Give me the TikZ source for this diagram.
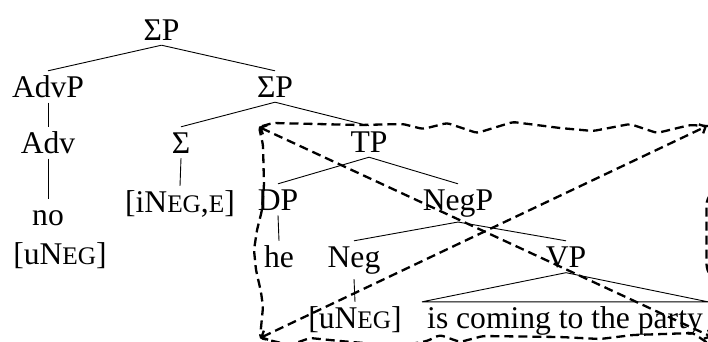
\documentclass[tikz,border=0pt]{standalone}
\usepackage{fontspec}
\setmainfont{Liberation Serif}
\usetikzlibrary{arrows.meta}
\newcommand\mysc[1]{{\fontsize{25.3}{25.3}\selectfont #1}}
\begin{document}
\begin{tikzpicture}[x=1pt,y=-1pt,
  lbl/.style={anchor=base, inner sep=5pt, text height=21pt, font=\fontsize{31.6}{38}\selectfont},
  branch/.style={line width=0.9pt},
  cloudline/.style={line width=2.3pt, dash pattern=on 9pt off 5pt},
  tipped/.style={{Straight Barb[length=5pt,width=10pt]}-{Straight Barb[length=5pt,width=10pt]}},
]
\useasboundingbox (0,0) rectangle (708,341);
\clip (0,0) rectangle (708,341);
% tree nodes
\node[lbl] (sp1) at (161.5,40) {ΣP};
\node[lbl] (advp) at (48,97) {AdvP};
\node[lbl] (sp2) at (275,97) {ΣP};
\node[lbl] (adv) at (48,153) {Adv};
\node[lbl] (sig) at (181,153) {Σ};
\node[lbl] (tp) at (369,152) {TP};
\node[lbl] (no) at (48,225) {no};
\node[lbl] (unegA) at (60,264) {[uN\mysc{EG}]};
\node[lbl] (ineg) at (180,212) {[iN\mysc{EG},\mysc{E}]};
\node[lbl] (dp) at (278,210) {DP};
\node[lbl] (negp) at (458,210) {NegP};
\node[lbl] (he) at (279,267) {he};
\node[lbl] (neg) at (354,267) {Neg};
\node[lbl] (vp) at (566,267) {VP};
\node[lbl] (unegB) at (355,328) {[uN\mysc{EG}]};
\node[lbl] (vpt) at (565,328) {is coming to the party};
% branches
\draw[branch] (sp1.south) -- (advp.north);
\draw[branch] (sp1.south) -- (sp2.north);
\draw[branch] (advp.south) -- (adv.north);
\draw[branch] (sp2.south) -- (sig.north);
\draw[branch] (sp2.south) -- (tp.north);
\draw[branch] (adv.south) -- (no.north);
\draw[branch] (sig.south) -- (ineg.north);
\draw[branch] (tp.south) -- (dp.north);
\draw[branch] (tp.south) -- (negp.north);
\draw[branch] (dp.south) -- (he.north);
\draw[branch] (negp.south) -- (neg.north);
\draw[branch] (negp.south) -- (vp.north);
\draw[branch] (neg.south) -- (unegB.north);
\draw[branch] (vp.south) -- (vpt.north west) -- (vpt.north east) -- cycle;
% dashed cloud
\coordinate (tl) at (259,127);
\coordinate (bl) at (260,338);
\coordinate (tr) at (707,126);
\coordinate (br) at (712,337);
\draw[cloudline, rounded corners=3pt] (tl) -- (273,123) -- (360,125) -- (403,124) -- (423,129)
  -- (447,123) -- (477,133) -- (513,122) -- (560,128) -- (593,131) -- (630,124)
  -- (657,133) -- (690,125) -- (tr) -- (735,128) -- (735,180) -- (712,190)
  -- (706.5,202) -- (706.5,267) -- (712,282) -- (735,300) -- (735,350)
  -- (712,346) -- (693,333) -- (633,335) -- (600,339) -- (560,337) -- (483,336)
  -- (460,342) -- (440,335) -- (427,341) -- (400,346) -- (340,341) -- (310,338)
  -- (290,345) -- (bl) -- (263,307) -- (261,292) -- (256,270) -- (254,250)
  -- (257,230) -- (262,210) -- (264,185) -- (263,145) -- cycle;
\draw[cloudline, tipped] (tl) -- (br);
\draw[cloudline, tipped] (bl) -- (tr);
\end{tikzpicture}
\end{document}
